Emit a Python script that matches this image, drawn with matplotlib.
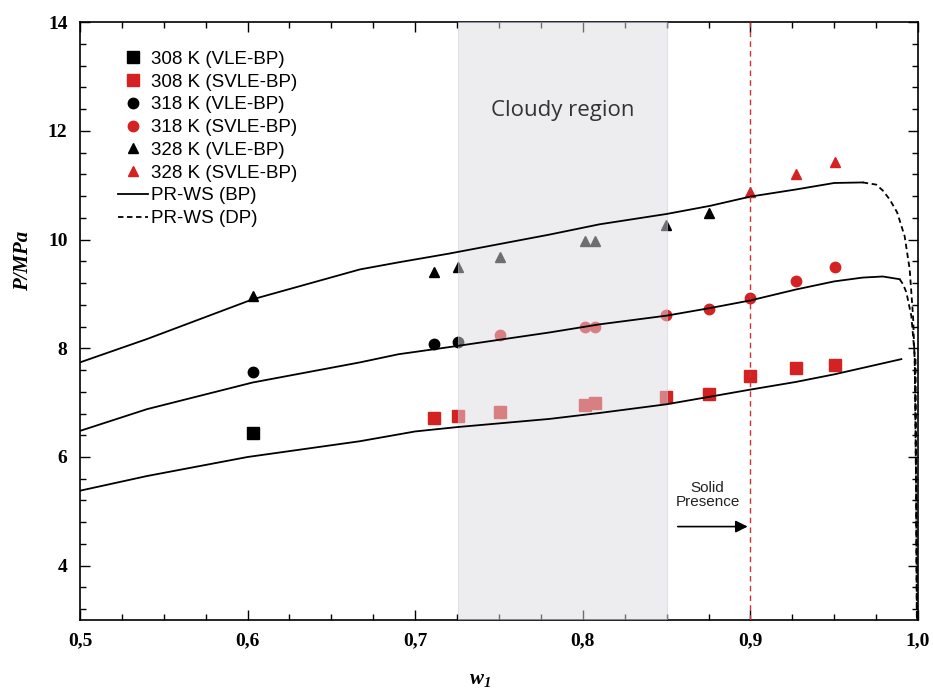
import matplotlib
matplotlib.use('Agg')
import matplotlib.pyplot as plt
from matplotlib.ticker import MultipleLocator, FuncFormatter

# experimental bubble points (w1, P/MPa)
w308_vle = [0.603]
p308_vle = [6.45]
w308_svle = [0.711, 0.7255, 0.7505, 0.801, 0.807, 0.8496, 0.8753, 0.900, 0.927, 0.9505]
p308_svle = [6.72, 6.75, 6.83, 6.95, 6.99, 7.10, 7.15, 7.49, 7.63, 7.70]

w318_vle = [0.603, 0.711, 0.7255]
p318_vle = [7.56, 8.07, 8.11]
w318_svle = [0.7505, 0.801, 0.807, 0.8496, 0.8753, 0.900, 0.927, 0.9505]
p318_svle = [8.24, 8.40, 8.40, 8.61, 8.73, 8.92, 9.23, 9.50]

w328_vle = [0.603, 0.711, 0.7255, 0.7505, 0.801, 0.807, 0.8496, 0.8753]
p328_vle = [8.96, 9.40, 9.49, 9.67, 9.98, 9.98, 10.27, 10.48]
w328_svle = [0.900, 0.927, 0.9505]
p328_svle = [10.88, 11.21, 11.43]

# PR-WS model, bubble point branch
w308_bp = [0.50, 0.54, 0.60, 0.667, 0.70, 0.725, 0.78, 0.81, 0.85, 0.876, 0.90, 0.927, 0.95, 0.99]
p308_bp = [5.38, 5.65, 6.00, 6.29, 6.47, 6.55, 6.70, 6.81, 6.97, 7.11, 7.24, 7.38, 7.52, 7.80]
w318_bp = [0.50, 0.54, 0.603, 0.667, 0.69, 0.72, 0.78, 0.81, 0.85, 0.876, 0.90, 0.927, 0.95, 0.967, 0.979, 0.989]
p318_bp = [6.48, 6.88, 7.37, 7.74, 7.89, 8.02, 8.29, 8.44, 8.60, 8.74, 8.88, 9.08, 9.23, 9.30, 9.32, 9.27]
w328_bp = [0.50, 0.54, 0.603, 0.667, 0.69, 0.72, 0.78, 0.81, 0.85, 0.876, 0.90, 0.927, 0.95, 0.967]
p328_bp = [7.74, 8.17, 8.90, 9.45, 9.58, 9.74, 10.09, 10.28, 10.47, 10.62, 10.79, 10.92, 11.04, 11.05]

# PR-WS model, dew point branch
w328_dp = [0.967, 0.975, 0.979, 0.983, 0.9875, 0.992, 0.995, 0.997, 0.998, 0.9988, 0.9993]
p328_dp = [11.05, 11.01, 10.90, 10.74, 10.50, 10.06, 9.45, 8.59, 7.74, 5.5, 3.0]
w318_dp = [0.989, 0.991, 0.993, 0.996, 0.998, 0.9988, 0.9993]
p318_dp = [9.27, 9.18, 9.03, 8.59, 7.86, 5.5, 3.0]
w308_dp = [0.9985, 0.999, 0.9993]
p308_dp = [7.80, 5.5, 3.0]

cloudy = (0.7255, 0.85)
solid_limit = 0.90

red = '#d42222'

plt.rcParams['font.family'] = ['Liberation Sans', 'DejaVu Sans']
plt.rcParams['mathtext.fontset'] = 'custom'
plt.rcParams['mathtext.bfit'] = 'Liberation Serif:italic:bold'

fig = plt.figure(figsize=(9.33, 6.89), dpi=100)
ax = fig.add_axes([0.0857, 0.100, 0.8983, 0.868])

ax.plot(w308_vle, p308_vle, 's', color='black', ms=8, zorder=2, label='308 K (VLE-BP)')
ax.plot(w308_svle, p308_svle, 's', color=red, ms=8, zorder=2, label='308 K (SVLE-BP)')
ax.plot(w318_vle, p318_vle, 'o', color='black', ms=7.5, zorder=2, label='318 K (VLE-BP)')
ax.plot(w318_svle, p318_svle, 'o', color=red, ms=7.5, zorder=2, label='318 K (SVLE-BP)')
ax.plot(w328_vle, p328_vle, '^', color='black', ms=6.5, zorder=2, label='328 K (VLE-BP)')
ax.plot(w328_svle, p328_svle, '^', color=red, ms=6.5, zorder=2, label='328 K (SVLE-BP)')

ax.plot(w308_bp, p308_bp, '-', color='black', lw=1.3, zorder=4, label='PR-WS (BP)')
ax.plot(w318_bp, p318_bp, '-', color='black', lw=1.3, zorder=4)
ax.plot(w328_bp, p328_bp, '-', color='black', lw=1.3, zorder=4)
ax.plot(w328_dp, p328_dp, '--', color='black', lw=1.3, dashes=(3, 2), zorder=4, label='PR-WS (DP)')
ax.plot(w318_dp, p318_dp, '--', color='black', lw=1.3, dashes=(3, 2), zorder=4)
ax.plot(w308_dp, p308_dp, '--', color='black', lw=1.3, dashes=(3, 2), zorder=4)

# cloudy region drawn over the markers so they look faded
ax.axvspan(cloudy[0], cloudy[1], facecolor='#dcdce2', alpha=0.5, edgecolor='#c8cce0', lw=0.8, zorder=3)
ax.text(sum(cloudy) / 2, 12.38, 'Cloudy region', ha='center', va='center', fontsize=16,
        color='#333333', family=['Open Sans', 'DejaVu Sans'], zorder=5)

ax.axvline(solid_limit, color='#cc3333', lw=1.0, ls=(0, (4, 3)), zorder=4)
ax.annotate('', xy=(solid_limit, 4.72), xytext=(0.855, 4.72),
            arrowprops=dict(arrowstyle='-|>', color='black', lw=1.2, mutation_scale=18))
ax.text(0.8745, 5.30, 'Solid\nPresence', ha='center', va='center', fontsize=11,
        color='#222222', linespacing=1.05)

ax.set_xlim(0.5, 1.0)
ax.set_ylim(3, 14)
ax.xaxis.set_major_locator(MultipleLocator(0.1))
ax.xaxis.set_minor_locator(MultipleLocator(0.025))
ax.yaxis.set_major_locator(MultipleLocator(2))
ax.yaxis.set_minor_locator(MultipleLocator(0.4))
ax.xaxis.set_major_formatter(FuncFormatter(lambda v, p: f'{v:.1f}'.replace('.', ',')))
ax.yaxis.set_major_formatter(FuncFormatter(lambda v, p: f'{v:.0f}'))
ax.tick_params(which='both', direction='in', top=True, right=True, width=1.0)
ax.tick_params(which='major', length=7, pad=9)
ax.tick_params(which='minor', length=4)
for lab in ax.get_xticklabels() + ax.get_yticklabels():
    lab.set_family('Liberation Serif')
    lab.set_weight('bold')
    lab.set_fontsize(14)
for s in ax.spines.values():
    s.set_linewidth(1.2)

ax.set_xlabel(r'$\mathbfit{w_1}$', fontsize=15)
ax.set_ylabel('P/MPa', fontsize=15, family='Liberation Serif', style='italic', weight='bold')
ax.xaxis.set_label_coords(0.477, -0.083)
ax.yaxis.set_label_coords(-0.056, 0.60)

ax.legend(loc='upper left', bbox_to_anchor=(0.045, 0.952), frameon=False, fontsize=13.5,
          handlelength=1.6, handletextpad=0.2, labelspacing=0.3, borderpad=0, borderaxespad=0)

fig.savefig('out.png', dpi=100)
